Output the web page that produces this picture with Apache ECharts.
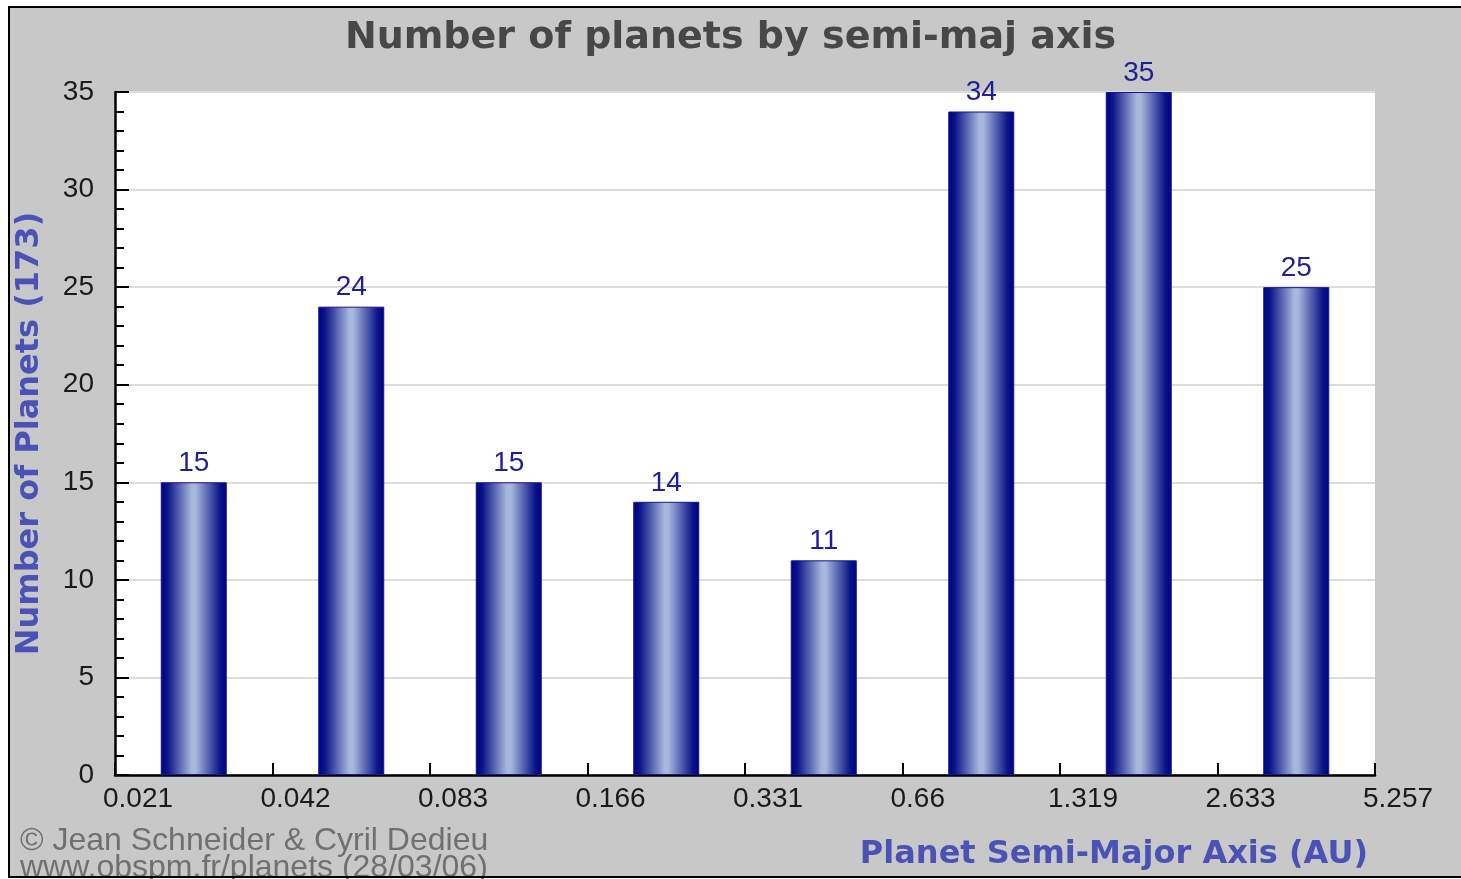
<!DOCTYPE html>
<html>
<head>
<meta charset="utf-8">
<title>Number of planets by semi-maj axis</title>
<script src="https://cdn.jsdelivr.net/npm/echarts@6/dist/echarts.min.js"></script>
<style>
  html, body { margin: 0; padding: 0; background: #ffffff; }
  #chart { width: 1461px; height: 879px; }
</style>
</head>
<body>
<div id="chart"></div>
<script>
// Bin edges of the semi-major axis (AU), one label per bin boundary
const binEdges = ['0.021', '0.042', '0.083', '0.166', '0.331', '0.66', '1.319', '2.633', '5.257'];
// Number of planets in each bin
const planetCounts = [15, 24, 15, 14, 11, 34, 35, 25];
// Value-axis tick labels
const countTicks = [0, 5, 10, 15, 20, 25, 30, 35];

const totalPlanets = planetCounts.reduce((a, b) => a + b, 0);

const chart = echarts.init(document.getElementById('chart'), null, { renderer: 'canvas' });

const barGradient = new echarts.graphic.LinearGradient(0, 0, 1, 0, [
  { offset: 0, color: '#000080' },
  { offset: 0.1, color: '#0a1488' },
  { offset: 0.47, color: '#a6b8dc' },
  { offset: 0.53, color: '#a6b8dc' },
  { offset: 0.9, color: '#0a1488' },
  { offset: 1, color: '#000080' }
]);

const option = {
  backgroundColor: '#ffffff',
  animation: false,
  graphic: [
    {
      type: 'rect', z: -100, silent: true,
      shape: { x: 9, y: 7, width: 1460, height: 870 },
      style: { fill: '#c8c8c8' }
    },
    {
      type: 'rect', z: 100, silent: true,
      shape: { x: 9, y: 7, width: 1460, height: 870 },
      style: { fill: 'none', stroke: '#000000', lineWidth: 2 }
    }
  ],
  title: [
    {
      text: 'Number of planets by semi-maj axis',
      left: 'center',
      top: 19,
      padding: 0,
      textStyle: { fontFamily: 'DejaVu Sans', fontWeight: 'bold', fontSize: 38, color: '#474747' }
    },
    {
      text: 'Planet Semi-Major Axis (AU)',
      right: 93,
      top: 839,
      padding: 0,
      textStyle: { fontFamily: 'DejaVu Sans', fontWeight: 'bold', fontSize: 32, color: '#4a52b5' }
    },
    {
      text: '\u00a9 Jean Schneider & Cyril Dedieu\nwww.obspm.fr/planets (28/03/06)',
      left: 20,
      top: 828,
      padding: 0,
      textStyle: { fontFamily: 'Liberation Sans', fontWeight: 'normal', fontSize: 32, lineHeight: 27, color: '#707070' }
    }
  ],
  grid: {
    left: 115, top: 92, right: 86, bottom: 104,
    show: true, backgroundColor: '#ffffff', borderWidth: 0,
    containLabel: false
  },
  xAxis: {
    type: 'value',
    min: 0,
    max: binEdges.length - 1,
    interval: 1,
    axisLine: { show: true, lineStyle: { color: '#000000', width: 2.5 } },
    axisTick: { show: true, inside: true, length: 12, lineStyle: { color: '#000000', width: 2 } },
    splitLine: { show: false },
    axisLabel: {
      show: true,
      margin: 10,
      align: 'left',
      padding: [0, 0, 0, -12],
      fontFamily: 'Liberation Sans',
      fontSize: 28,
      color: '#1a1a1a',
      formatter: (v) => binEdges[Math.round(v)] || ''
    }
  },
  yAxis: {
    type: 'value',
    min: countTicks[0],
    max: countTicks[countTicks.length - 1],
    interval: countTicks[1] - countTicks[0],
    name: 'Number of Planets (' + totalPlanets + ')',
    nameLocation: 'middle',
    nameRotate: 90,
    nameGap: 69,
    nameTextStyle: { fontFamily: 'DejaVu Sans', fontWeight: 'bold', fontSize: 32, color: '#4a52b5' },
    axisLine: { show: true, lineStyle: { color: '#000000', width: 2.5 } },
    axisTick: { show: true, inside: true, length: 14, lineStyle: { color: '#000000', width: 2 } },
    minorTick: { show: true, splitNumber: 5, length: 9, lineStyle: { color: '#000000', width: 2 } },
    splitLine: { show: true, lineStyle: { color: '#dcdcdc', width: 2 } },
    axisLabel: {
      margin: 21,
      fontFamily: 'Liberation Sans',
      fontSize: 28,
      color: '#1a1a1a',
      padding: [6, 0, 0, 0]
    }
  },
  series: [
    {
      type: 'bar',
      barWidth: 66,
      data: planetCounts.map((v, i) => [i + 0.5, v]),
      itemStyle: { color: barGradient, borderColor: '#14148c', borderWidth: 1 },
      label: {
        show: true,
        position: 'top',
        distance: 5,
        fontFamily: 'Liberation Sans',
        fontSize: 28,
        color: '#1f1f96',
        formatter: (p) => p.value[1]
      }
    }
  ]
};

chart.setOption(option);
</script>
</body>
</html>
